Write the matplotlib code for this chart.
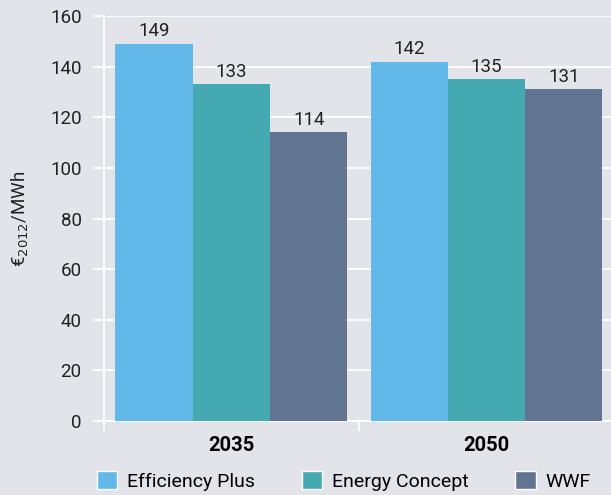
import numpy as np
import matplotlib.pyplot as plt
from matplotlib.patches import Patch

plt.rcParams['font.family'] = ['Roboto', 'DejaVu Sans']

years = ['2035', '2050']
series = ['Efficiency Plus', 'Energy Concept', 'WWF']
values = {
    'Efficiency Plus': [149, 142],
    'Energy Concept': [133, 135],
    'WWF': [114, 131],
}
colors = ['#62b8e8', '#45a9b1', '#617593']
bg = '#e3e4e9'

fig = plt.figure(figsize=(6.11, 4.95), dpi=100, facecolor=bg)
ax = fig.add_axes([0.170, 0.1495, 0.835, 0.818], facecolor=bg)

x = np.arange(len(years))
w = 0.303
for i, s in enumerate(series):
    pos = x + (i - 1) * w
    bars = ax.bar(pos, values[s], width=w, color=colors[i], zorder=3)
    for b, v in zip(bars, values[s]):
        ax.text(b.get_x() + b.get_width() / 2, v + 1.5, str(v),
                ha='center', va='bottom', fontsize=13.5, color='#222222')

ax.set_xlim(-0.5, 1.5)
ax.set_ylim(0, 160)
ax.set_yticks(range(0, 161, 20))
ax.tick_params(axis='y', labelsize=13.5, length=8, color='white', width=1.2,
               labelcolor='#222222', pad=8)
ax.grid(axis='y', color='white', linewidth=1.2, zorder=0)

ax.set_xticks([-0.5, 0.5, 1.5])
ax.set_xticklabels([])
ax.set_xticks(x, minor=True)
ax.set_xticklabels(years, minor=True, fontsize=14.5, fontweight='bold')
ax.tick_params(axis='x', which='major', length=7, color='white', width=1.2)
ax.tick_params(axis='x', which='minor', length=0, pad=11)

for sp in ['top', 'right']:
    ax.spines[sp].set_visible(False)
for sp in ['left', 'bottom']:
    ax.spines[sp].set_color('white')
    ax.spines[sp].set_linewidth(1.2)

ax.set_ylabel('€$_{2012}$/MWh', fontsize=13.5, color='#222222', labelpad=14)

handles = [Patch(facecolor=c, edgecolor='white', linewidth=1) for c in colors]
fig.legend(handles, series, loc='center left', bbox_to_anchor=(97 / 611, 0.028),
           ncol=3, frameon=False, fontsize=14, handlelength=1.05,
           handleheight=1.05, columnspacing=2.4, handletextpad=0.5,
           borderpad=0, borderaxespad=0)

fig.savefig('out.png', dpi=100, facecolor=bg)
